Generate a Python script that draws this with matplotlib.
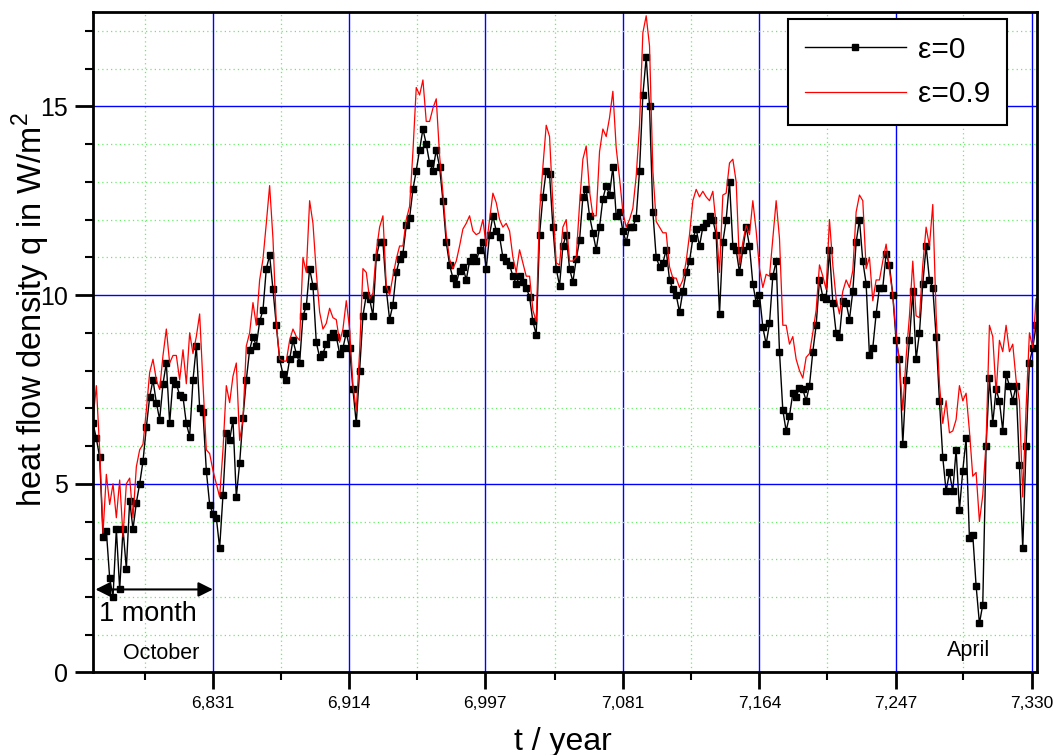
import numpy as np
import matplotlib.pyplot as plt
from matplotlib.ticker import MultipleLocator

plt.rcParams['font.family'] = ['Liberation Sans', 'DejaVu Sans']
plt.rcParams['mathtext.fontset'] = 'custom'
plt.rcParams['mathtext.rm'] = 'Liberation Sans'

# time span of the record (years)
t_start, t_end = 6.7579, 7.3326

# heat flow density q in W/m^2, emissivity 0
q_eps0 = [
    6.6, 6.2, 5.7, 3.6, 3.75, 2.5, 2.0, 3.8, 2.2, 3.8, 2.75, 4.55, 3.8, 4.5, 5.0, 5.6, 6.5, 7.3, 7.75, 7.15,
    6.7, 7.65, 8.2, 6.6, 7.75, 7.65, 7.35, 7.3, 6.6, 6.25, 7.75, 8.65, 7.0, 6.9, 5.35, 4.45, 4.2, 4.1, 3.3, 4.7,
    6.35, 6.15, 6.7, 4.65, 5.55, 6.75, 7.75, 8.55, 8.9,
    8.65, 9.3, 9.6, 10.7, 11.05, 10.15, 9.2, 8.3, 7.9, 7.75, 8.3, 8.8, 8.45, 8.2, 9.45, 9.7, 10.7, 10.25, 8.75, 8.35,
    8.45, 8.7, 8.9, 9.0, 8.9, 8.45, 8.6, 9.0, 8.6, 7.5, 6.6, 8.0, 9.45, 10.0, 9.9, 9.45, 11.0, 11.4, 11.4, 10.15,
    9.35, 9.75, 10.6, 10.95, 11.1, 11.85, 12.05, 12.8,
    13.3, 13.85, 14.4, 14.0, 13.5, 13.3, 13.85, 13.4, 12.5, 11.4, 10.8, 10.45, 10.3, 10.65, 10.75, 10.4, 10.9, 11.0,
    10.9, 11.2, 11.4, 10.7, 11.6, 12.1, 11.7, 11.55, 11.0, 10.9, 10.8, 10.5, 10.3, 10.5, 10.35, 10.2, 9.95, 9.3,
    8.95, 11.6, 12.6, 13.3, 13.2, 11.8, 10.7, 10.25, 11.3, 11.6, 10.7, 10.35,
    10.95, 11.45, 12.6, 12.8, 12.1, 11.65, 11.2, 11.8, 12.55, 12.9, 12.65, 13.4, 12.1, 12.2, 11.7, 11.4, 11.8, 11.8,
    12.05, 13.3, 15.3, 16.3, 15.0, 12.2, 11.0, 10.75, 10.85, 11.2, 10.4, 10.15, 10.0, 9.55, 10.1, 10.6, 10.9, 11.5,
    11.75, 11.3, 11.8, 11.9, 12.1, 12.0, 11.6, 9.5, 11.4, 12.0, 13.0,
    11.3, 11.2, 10.6, 11.2, 11.8, 11.3, 10.3, 9.8, 10.0, 9.15, 8.7, 9.25, 10.5, 10.9, 8.5, 6.95, 6.4, 6.8, 7.4, 7.3,
    7.55, 7.5, 7.2, 7.6, 8.5, 9.2, 10.4, 9.95, 9.9, 11.2, 9.8, 9.0, 8.9, 9.85, 9.8, 9.35, 10.1, 11.4, 12.0, 10.9,
    10.3, 8.4, 8.6, 9.5, 10.2, 10.2, 11.1, 10.8,
    10.0, 8.8, 8.3, 6.05, 7.75, 8.8, 10.1, 8.3, 9.0, 10.3, 11.3, 10.4, 10.2, 8.9, 7.2, 5.7, 4.8, 5.3, 4.8, 5.9,
    4.3, 5.35, 6.2, 3.55, 3.65, 2.3, 1.3, 1.8, 6.0, 7.8, 6.6, 7.5, 7.2, 6.4, 7.9, 7.6, 7.2, 7.6, 5.5, 3.3,
    6.0, 8.2, 8.6, 9.2,
]

# heat flow density q in W/m^2, emissivity 0.9
q_eps09 = [
    6.7, 7.6, 5.9, 3.7, 5.25, 4.45, 5.0, 4.1, 5.1, 3.6, 5.0, 5.15, 4.1, 5.45, 5.9, 6.05, 6.95, 7.95, 8.3, 7.75,
    7.5, 8.4, 9.1, 8.2, 8.4, 8.4, 7.75, 8.55, 7.65, 9.0, 8.45, 8.9, 9.5, 7.65, 5.9, 5.8, 5.35, 5.0, 4.65, 5.9,
    7.6, 7.15, 7.85, 8.2, 6.15, 6.7, 8.65, 9.0, 9.8,
    9.2, 10.4, 10.95, 11.9, 12.9, 11.5, 9.25, 8.3, 8.25, 8.25, 8.8, 9.1, 8.9, 8.8, 11.0, 10.6, 12.5, 11.9, 10.6, 9.55,
    9.1, 9.25, 9.65, 9.4, 9.35, 8.75, 9.1, 9.85, 9.1, 7.6, 6.95, 8.5, 10.7, 10.6, 9.9, 10.05, 11.15, 11.8, 12.1, 10.25,
    10.0, 10.5, 10.95, 11.3, 11.3, 12.0, 12.35, 13.8,
    15.5, 15.3, 15.7, 14.6, 14.6, 14.95, 15.2, 13.7, 12.7, 11.6, 10.95, 10.7, 10.9, 11.3, 11.75, 11.9, 12.1, 11.7,
    11.6, 11.65, 12.0, 11.3, 12.0, 12.7, 12.45, 12.0, 11.8, 11.9, 11.7, 11.0, 10.6, 11.2, 10.85, 10.5, 10.5, 9.6,
    9.3, 12.2, 13.4, 14.5, 14.2, 12.4, 10.85, 10.8, 11.8, 12.0, 10.9, 10.9,
    11.0, 12.4, 13.6, 13.95, 12.75, 12.1, 12.1, 13.8, 14.4, 14.2, 14.7, 15.4, 13.9, 13.1, 12.2, 11.8, 12.0, 12.3,
    13.15, 14.5, 16.95, 17.4, 16.6, 13.3, 11.95, 11.8, 11.65, 11.65, 10.75, 10.45, 10.45, 10.2, 10.4, 10.9, 11.6, 12.5,
    12.8, 12.6, 12.75, 12.6, 12.5, 12.75, 11.85, 10.6, 12.65, 12.7, 13.5,
    13.6, 13.0, 10.8, 11.4, 11.85, 11.6, 12.5, 11.7, 10.7, 10.2, 10.55, 10.5, 11.5, 12.5, 11.5, 9.2, 9.2, 8.7, 8.9, 8.3,
    8.0, 7.8, 8.35, 8.45, 9.0, 9.6, 10.8, 10.5, 10.15, 12.0, 10.8, 9.9, 9.5, 10.1, 10.4, 10.2, 10.65, 12.2, 12.65, 12.5,
    10.7, 11.0, 9.85, 10.4, 10.4, 10.9, 11.35, 10.65,
    10.0, 8.95, 8.2, 6.95, 8.35, 9.45, 10.9, 9.45, 9.4, 10.8, 11.8, 11.3, 12.4, 9.5, 7.65, 6.6, 7.2, 6.35, 6.4, 6.7,
    7.6, 7.2, 7.4, 6.4, 5.2, 5.3, 4.0, 4.7, 6.1, 9.2, 8.9, 7.4, 8.8, 8.5, 9.2, 8.5, 8.7, 7.75, 7.2, 4.65,
    7.0, 9.0, 8.6, 9.9,
]

x_ticks = [6.831, 6.914, 6.997, 7.081, 7.164, 7.247, 7.330]
x_labels = ['6,831', '6,914', '6,997', '7,081', '7,164', '7,247', '7,330']
y_ticks = [0, 5, 10, 15]

t = np.linspace(t_start, t_end, len(q_eps0))

fig = plt.figure(figsize=(10.55, 7.55), dpi=100)
ax = fig.add_axes([0.0877, 0.1093, 0.8953, 0.8748])

# grid: blue at major ticks, green dotted at minor ticks
ax.set_axisbelow(True)
ax.xaxis.set_minor_locator(plt.FixedLocator([x - 1 / 24 for x in x_ticks]))
ax.yaxis.set_minor_locator(MultipleLocator(1))
ax.grid(which='major', color='#0000ff', lw=1.0)
ax.grid(which='minor', color='#66ee66', lw=0.9, linestyle=(0, (1, 2.5)))

ax.plot(t, q_eps0, color='black', lw=1.0, marker='s', ms=3.7, label='ε=0')
ax.plot(t, q_eps09, color='red', lw=0.9, label='ε=0.9')

ax.set_xlim(6.7576, 7.3332)
ax.set_ylim(0, 17.5)
ax.set_xticks(x_ticks)
ax.set_xticklabels(x_labels)
ax.set_yticks(y_ticks)
ax.tick_params(axis='x', which='major', direction='out', length=12, width=2, labelsize=12.5, pad=5)
ax.tick_params(axis='y', which='major', direction='out', length=13, width=2, labelsize=18, pad=5)
ax.tick_params(which='minor', direction='out', length=6, width=1.5)
for sp in ax.spines.values():
    sp.set_linewidth(2)

fig.text(563 / 1055, 1 - 750 / 755, 't / year', fontsize=23, ha='center', va='baseline')
ax.set_ylabel('heat flow density q in W/m$^2$', fontsize=23.5)
ax.yaxis.set_label_coords(-0.043, 0.549)

# one month arrow and month names
ax.annotate('', xy=(6.7594, 2.2), xytext=(6.831, 2.2),
            arrowprops=dict(arrowstyle='<|-|>', color='black', lw=1.5, mutation_scale=22, shrinkA=0, shrinkB=0))
ax.text(6.7915, 1.55, '1 month', fontsize=19.5, ha='center', va='center')
ax.text(6.7994, 0.5, 'October', fontsize=15.5, ha='center', va='center')
ax.text(7.2916, 0.58, 'April', fontsize=15.5, ha='center', va='center')

leg = ax.legend(loc='upper right', bbox_to_anchor=(0.968, 0.989), borderaxespad=0, fontsize=21.5,
                numpoints=1, handlelength=3.4, fancybox=False, framealpha=1, edgecolor='black',
                labelspacing=0.55, borderpad=0.55, handletextpad=0.4, handleheight=0.7)
leg.get_frame().set_linewidth(1.5)

fig.savefig('out.png', dpi=100)
